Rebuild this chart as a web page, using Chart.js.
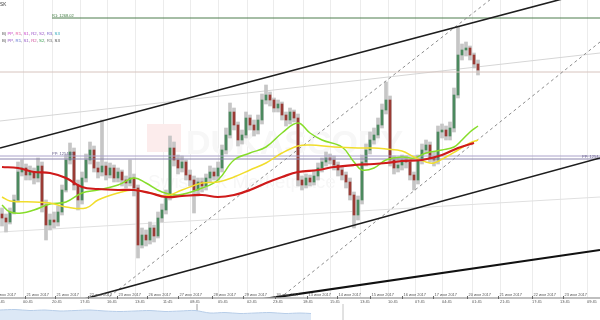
<!DOCTYPE html>
<html>
<head>
<meta charset="utf-8">
<script src="https://cdn.jsdelivr.net/npm/chart.js@4.4.1/dist/chart.umd.min.js"></script>
<style>
  body { margin: 0; background: #fff; }
  #wrap { position: relative; width: 600px; height: 320px; overflow: hidden; }
  #chart { position: absolute; left: 0; top: 0; }
  #nav { position: absolute; left: 0; top: 304px; }
</style>
</head>
<body>
<div id="wrap">
  <canvas id="chart" width="600" height="320" style="width:600px;height:320px"></canvas>
  <canvas id="nav" width="600" height="16" style="width:600px;height:16px"></canvas>
</div>
<script>
// candles, one per bar index
const firstOpen = 1248.6;
const closes = [
  1248.2, 1247.8, 1248.8, 1250.0, 1252.8, 1253.2, 1252.5, 1252.8, 1252.2, 1253.4,
  1249.5, 1247.5, 1248.0, 1247.8, 1248.8, 1251.0, 1254.0, 1254.8, 1251.5, 1250.0,
  1252.2, 1254.0, 1255.0, 1253.2, 1252.8, 1253.4, 1252.5, 1253.2, 1252.2, 1252.8,
  1252.0, 1251.7, 1252.2, 1251.2, 1245.5, 1246.5, 1246.0, 1247.2, 1246.4, 1248.2,
  1249.0, 1250.4, 1255.2, 1254.0, 1253.2, 1253.8, 1252.5, 1252.0, 1251.0, 1251.8,
  1251.4, 1252.2, 1252.8, 1252.4, 1253.2, 1255.0, 1256.5, 1258.8, 1257.5, 1256.0,
  1256.5, 1258.2, 1257.5, 1257.0, 1258.0, 1260.0, 1260.5, 1260.0, 1259.2, 1259.6,
  1258.5, 1258.0, 1258.8, 1258.2, 1252.0, 1251.5, 1252.2, 1251.8, 1252.4, 1253.2,
  1253.8, 1254.2, 1254.0, 1253.5, 1253.0, 1252.5, 1251.8, 1250.5, 1248.5, 1250.0,
  1253.8, 1255.0, 1256.0, 1256.5, 1257.5, 1259.0, 1260.0, 1254.0, 1253.2, 1253.5,
  1254.0, 1253.8, 1252.5, 1252.0, 1254.0, 1255.0, 1255.5, 1254.2, 1254.0, 1256.8,
  1257.0, 1256.4, 1257.2, 1260.5, 1264.5, 1265.0, 1265.2, 1264.5, 1263.6, 1263.0
];
const highs = [
  1249.2, 1248.6, 1249.2, 1250.5, 1253.8, 1254.0, 1253.6, 1253.4, 1253.2, 1254.2,
  1253.8, 1250.0, 1248.6, 1248.8, 1249.4, 1251.5, 1254.5, 1255.7, 1255.2, 1252.0,
  1252.8, 1254.6, 1255.8, 1255.4, 1253.8, 1258.0, 1253.8, 1253.7, 1253.5, 1253.2,
  1253.0, 1252.4, 1254.0, 1252.6, 1251.5, 1247.2, 1247.0, 1247.8, 1247.5, 1248.8,
  1249.6, 1251.0, 1256.4, 1255.8, 1254.5, 1254.4, 1254.0, 1253.0, 1252.4, 1252.2,
  1252.2, 1252.6, 1253.4, 1253.2, 1253.8, 1255.5, 1257.2, 1259.7, 1259.2, 1257.8,
  1257.0, 1258.8, 1258.5, 1258.0, 1258.5, 1260.6, 1261.5, 1260.8, 1260.2, 1260.0,
  1259.8, 1258.8, 1259.2, 1259.0, 1258.6, 1252.4, 1252.6, 1252.5, 1253.0, 1253.7,
  1254.2, 1254.8, 1254.6, 1254.4, 1253.8, 1253.4, 1252.8, 1252.2, 1250.8, 1250.4,
  1254.5, 1255.6, 1256.8, 1257.2, 1258.2, 1259.6, 1261.8, 1260.4, 1254.4, 1254.2,
  1254.5, 1254.4, 1254.0, 1252.8, 1254.5, 1255.6, 1256.0, 1255.8, 1254.8, 1257.4,
  1257.6, 1257.4, 1257.8, 1261.2, 1267.3, 1265.6, 1265.8, 1265.4, 1264.7, 1264.0
];
const lows = [
  1247.4, 1246.8, 1247.6, 1248.6, 1249.8, 1252.4, 1252.0, 1252.0, 1251.6, 1251.8,
  1248.8, 1246.0, 1247.0, 1247.2, 1247.4, 1248.5, 1250.8, 1253.6, 1251.0, 1249.0,
  1249.6, 1251.8, 1253.6, 1252.8, 1252.2, 1252.4, 1252.0, 1252.2, 1251.8, 1251.8,
  1251.4, 1251.2, 1251.4, 1250.4, 1244.2, 1245.2, 1245.4, 1245.6, 1245.8, 1246.2,
  1247.8, 1248.6, 1250.0, 1253.4, 1252.6, 1252.8, 1252.0, 1251.4, 1248.7, 1250.4,
  1250.8, 1251.0, 1251.8, 1252.0, 1252.0, 1252.8, 1254.6, 1256.2, 1257.0, 1255.4,
  1255.6, 1256.2, 1257.0, 1256.4, 1256.6, 1257.6, 1259.6, 1259.4, 1258.8, 1258.8,
  1258.0, 1257.4, 1257.6, 1257.8, 1251.4, 1251.0, 1251.2, 1251.4, 1251.5, 1252.0,
  1252.8, 1253.4, 1253.6, 1253.0, 1252.4, 1252.0, 1251.2, 1250.0, 1247.2, 1248.0,
  1249.6, 1253.4, 1254.6, 1255.6, 1256.2, 1257.2, 1258.6, 1253.4, 1252.6, 1252.8,
  1253.0, 1253.2, 1252.0, 1251.0, 1251.6, 1253.6, 1254.6, 1253.8, 1253.4, 1253.6,
  1256.2, 1256.0, 1256.0, 1256.8, 1260.2, 1264.0, 1264.4, 1264.0, 1263.2, 1262.5
];

// moving averages, read at some bar indices
const greenIdx = [0, 2, 5, 8, 12, 16, 20, 24, 29, 33, 36, 40, 44, 50, 54, 58, 62, 66, 70, 74, 77, 80, 85, 88, 90, 93, 96, 100, 103, 106, 110, 113, 115, 117, 119];
const greenMA = [1249.5, 1248.8, 1248.7, 1249.0, 1249.6, 1249.8, 1250.7, 1251.0, 1251.5, 1252.2, 1251.7, 1250.8, 1250.5, 1251.2, 1252.0, 1254.0, 1254.7, 1255.3, 1256.7, 1257.7, 1256.7, 1256.0, 1255.3, 1253.8, 1253.0, 1253.2, 1254.0, 1254.3, 1254.2, 1254.7, 1255.0, 1255.3, 1256.0, 1256.8, 1257.4];
const yellowIdx = [0, 2, 8, 12, 16, 21, 24, 29, 33, 37, 41, 45, 50, 54, 58, 62, 66, 70, 74, 77, 83, 89, 93, 96, 100, 103, 106, 108, 111, 114, 117, 119];
const yellowMA = [1250.3, 1249.9, 1249.8, 1249.7, 1249.3, 1249.2, 1250.0, 1250.7, 1251.0, 1250.7, 1250.4, 1251.0, 1251.7, 1251.8, 1252.3, 1253.0, 1253.7, 1254.7, 1255.4, 1255.5, 1255.3, 1255.2, 1255.2, 1255.1, 1254.9, 1254.3, 1253.8, 1253.7, 1254.3, 1255.0, 1255.7, 1256.0];
const redIdx = [0, 4, 8, 12, 16, 20, 24, 29, 33, 37, 41, 45, 50, 54, 58, 62, 66, 70, 74, 79, 83, 88, 93, 96, 100, 105, 110, 114, 118];
const redMA = [1253.3, 1253.2, 1252.8, 1252.7, 1252.2, 1251.3, 1251.1, 1251.0, 1251.0, 1250.7, 1250.3, 1250.4, 1250.5, 1250.3, 1250.5, 1251.0, 1251.7, 1252.3, 1252.8, 1253.0, 1253.3, 1253.5, 1253.6, 1253.7, 1253.9, 1254.0, 1254.5, 1255.2, 1255.7];

// drawn lines: [startIdx, startPrice, endIdx, endPrice]
const channelTop = [-0.5, 1255.2, 149.5, 1271.1];
const channelLow = [-0.5, 1237.8, 149.5, 1254.2];
const supportLine = [62, 1239.9, 149.5, 1245.0];
const thinUpper = [-0.5, 1257.9, 149.5, 1264.7];
const thinLower = [-0.5, 1246.8, 149.5, 1250.3];
const dashedA = [24.5, 1239.6, 124.5, 1270.8];
const dashedB = [67, 1239.4, 149.5, 1265.8];

// levels
const r1Level = 1268.2;
const r1Start = 12.5;
const ppLevels = [1254.4, 1254.1];
const lastPrice = 1262.8;

// axis labels
const dateTicks = [-2.5, 5.75, 13.25, 21.5, 28.75, 36.25, 44, 52.5, 60.25, 68.25, 76.25, 83.75, 92, 100, 107.75, 116.25, 124, 132.5, 140.25];
const dateLabels = ['20 июн 2017', '21 июн 2017', '21 июн 2017', '22 июн 2017', '23 июн 2017', '26 июн 2017', '27 июн 2017', '28 июн 2017', '29 июн 2017', '30 июн 2017', '13 июл 2017', '14 июл 2017', '15 июл 2017', '16 июл 2017', '17 июл 2017', '20 июл 2017', '21 июл 2017', '22 июл 2017', '23 июл 2017'];
const timeTicks = [-1.75, 5.25, 12.5, 19.5, 26.25, 33.25, 40.25, 47, 54, 61.25, 67.75, 75.25, 82, 89.5, 96.5, 103.25, 110, 117.5, 124.5, 132.5, 139.5, 146.25];
const timeLabels = ['03:45', '00:45', '20:45', '17:45', '16:45', '13:45', '11:45', '08:45', '05:45', '02:45', '23:45', '18:45', '15:45', '13:45', '10:45', '07:45', '04:45', '01:45', '21:45', '17:45', '13:45', '09:45'];

// navigator strip
const navX = [0, 15, 30, 45, 60, 75, 90, 105, 120, 135, 150, 165, 180, 195, 210, 225, 240, 255, 270, 285, 300, 311];
const navY = [10, 10.5, 9.5, 10, 9, 9.5, 10, 9, 8.5, 9, 9.5, 8.5, 9, 9.5, 7, 7.5, 6.5, 7, 7.5, 6.5, 7, 6.5];
const navMarks = [197, 343];

const pivotNames = ['PP', 'R1', 'S1', 'R2', 'S2', 'R3', 'S3'];
const pivotColors1 = ['#c93fc9', '#e0529c', '#c93fc9', '#9a52c8', '#9a52c8', '#7a62c8', '#2aa6b8'];
const pivotColors2 = ['#9455c4', '#5a6fd0', '#9455c4', '#d0509a', '#3aa050', '#777777', '#444444'];

const FONT = '"Liberation Sans", Arial, sans-serif';

const opens = closes.map((c, i) => (i === 0 ? firstOpen : closes[i - 1]));
const wickData = closes.map((c, i) => ({ x: i, y: [lows[i], highs[i]] }));
const bodyData = closes.map((c, i) => ({ x: i, y: [opens[i], c] }));
const bodyColors = closes.map((c, i) => (c >= opens[i] ? '#4b8a5e' : '#9b3b35'));

const seg = (s) => [{ x: s[0], y: s[1] }, { x: s[2], y: s[3] }];
const pts = (idx, vals) => idx.map((x, i) => ({ x, y: vals[i] }));
const lineDs = (data, color, width, order, extra) => Object.assign({
  type: 'line', data, borderColor: color, borderWidth: width,
  pointRadius: 0, fill: false, order
}, extra || {});

const overlay = {
  id: 'overlay',
  beforeDatasetsDraw(chart) {
    const { ctx, chartArea: a, scales: { x } } = chart;
    ctx.save();
    ctx.strokeStyle = '#ececec';
    ctx.lineWidth = 1;
    timeTicks.forEach((t) => {
      const px = Math.round(x.getPixelForValue(t)) + 0.5;
      ctx.beginPath();
      ctx.moveTo(px, a.top);
      ctx.lineTo(px, a.bottom);
      ctx.stroke();
    });
    // faint watermark
    ctx.fillStyle = '#fcecec';
    ctx.fillRect(147, 124, 34, 28);
    ctx.fillStyle = '#f7f7f7';
    ctx.font = 'bold 34px ' + FONT;
    ctx.fillText('DUKASCOPY', 186, 154);
    ctx.font = '19px ' + FONT;
    ctx.fillText('Swiss FX Marketplace', 148, 188);
    ctx.restore();
  },
  afterDraw(chart) {
    const { ctx, chartArea: a, scales: { x, y } } = chart;
    ctx.save();
    // axis band
    ctx.strokeStyle = '#aaaaaa';
    ctx.lineWidth = 1.5;
    ctx.beginPath();
    ctx.moveTo(0, a.bottom);
    ctx.lineTo(600, a.bottom);
    ctx.stroke();
    ctx.strokeStyle = '#666';
    ctx.lineWidth = 1;
    ctx.font = '3.9px ' + FONT;
    ctx.textBaseline = 'middle';
    ctx.fillStyle = '#555';
    dateTicks.forEach((t, i) => {
      const px = Math.round(x.getPixelForValue(t)) + 0.5;
      ctx.beginPath();
      ctx.moveTo(px, a.bottom - 2);
      ctx.lineTo(px, a.bottom + 1);
      ctx.stroke();
      ctx.fillText(dateLabels[i], px + 1, a.bottom - 3.3);
    });
    timeTicks.forEach((t, i) => {
      ctx.fillText(timeLabels[i], x.getPixelForValue(t), a.bottom + 4.3);
    });
    // level labels
    ctx.font = '4px ' + FONT;
    ctx.textBaseline = 'alphabetic';
    ctx.fillStyle = '#3f7a3f';
    ctx.fillText('R1: 1268.02', x.getPixelForValue(r1Start), y.getPixelForValue(r1Level) - 1.5);
    ctx.fillStyle = '#6c6490';
    ctx.fillText('PP: 1254.41', x.getPixelForValue(r1Start), y.getPixelForValue(ppLevels[0]) - 1);
    ctx.fillText('PP: 1254.41', 582, y.getPixelForValue(ppLevels[0]) + 1.5);
    // header
    ctx.fillStyle = '#333';
    ctx.font = '4.6px ' + FONT;
    ctx.fillText('ASK', -3, 6);
    ctx.font = '4.3px ' + FONT;
    [[pivotColors1, 34.5], [pivotColors2, 41.5]].forEach(([cols, ty]) => {
      let tx = 2;
      ctx.fillStyle = '#555';
      ctx.fillText('B) ', tx, ty);
      tx += ctx.measureText('B) ').width;
      pivotNames.forEach((n, i) => {
        ctx.fillStyle = cols[i];
        ctx.fillText(n, tx, ty);
        tx += ctx.measureText(n).width;
        if (i < pivotNames.length - 1) {
          ctx.fillStyle = '#555';
          ctx.fillText(', ', tx, ty);
          tx += ctx.measureText(', ').width;
        }
      });
    });
    ctx.restore();
  }
};

new Chart(document.getElementById('chart'), {
  type: 'bar',
  data: {
    datasets: [
      lineDs(seg(thinUpper), '#d6d6d6', 1, 20),
      lineDs(seg(thinLower), '#e0e0e0', 1, 20),
      { type: 'bar', data: wickData, backgroundColor: '#c6c6c6', barThickness: 3, grouped: false, order: 12 },
      { type: 'bar', data: bodyData, backgroundColor: bodyColors, barThickness: 2, minBarLength: 1, grouped: false, order: 11 },
      lineDs([{ x: -0.5, y: lastPrice }, { x: 149.5, y: lastPrice }], '#d7c4be', 1, 9),
      lineDs([{ x: r1Start, y: r1Level }, { x: 149.5, y: r1Level }], '#4d7d4d', 1, 9),
      lineDs([{ x: -0.5, y: ppLevels[0] }, { x: 149.5, y: ppLevels[0] }], '#aaa2ca', 1, 9),
      lineDs([{ x: -0.5, y: ppLevels[1] }, { x: 149.5, y: ppLevels[1] }], '#8a84ac', 1, 9),
      lineDs(seg(dashedA), '#8c8c8c', 1, 8, { borderDash: [3, 3] }),
      lineDs(seg(dashedB), '#8c8c8c', 1, 8, { borderDash: [3, 3] }),
      lineDs(seg(channelTop), '#1e1e1e', 1.6, 7),
      lineDs(seg(channelLow), '#1e1e1e', 1.6, 7),
      lineDs(seg(supportLine), '#111111', 2.2, 7),
      lineDs(pts(greenIdx, greenMA), '#86dd2a', 1.5, 6, { tension: 0.4 }),
      lineDs(pts(yellowIdx, yellowMA), '#f1dd2c', 1.5, 5, { tension: 0.4 }),
      lineDs(pts(redIdx, redMA), '#cf1a1a', 2.2, 4, { tension: 0.4 })
    ]
  },
  options: {
    responsive: false,
    animation: false,
    layout: { padding: { left: 0, right: 0, top: 0, bottom: 22 } },
    scales: {
      x: { type: 'linear', min: -0.5, max: 149.5, offset: false, display: false },
      y: { min: 1240.2, max: 1270, display: false }
    },
    plugins: { legend: { display: false }, tooltip: { enabled: false } }
  },
  plugins: [overlay]
});

new Chart(document.getElementById('nav'), {
  type: 'line',
  data: {
    datasets: [
      { data: pts(navX, navY), borderColor: '#b7cde8', borderWidth: 1, backgroundColor: '#dce8f6', fill: 'origin', pointRadius: 0, tension: 0.3 },
      { data: [{ x: navMarks[0], y: 0 }, { x: navMarks[0], y: 16 }], borderColor: '#9a9a9a', borderWidth: 1, pointRadius: 0 },
      { data: [{ x: navMarks[1], y: 0 }, { x: navMarks[1], y: 16 }], borderColor: '#c4c4c4', borderWidth: 1, pointRadius: 0 }
    ]
  },
  options: {
    responsive: false,
    animation: false,
    layout: { padding: 0 },
    scales: {
      x: { type: 'linear', min: 0, max: 600, display: false },
      y: { min: 0, max: 16, display: false }
    },
    plugins: { legend: { display: false }, tooltip: { enabled: false } }
  }
});
</script>
</body>
</html>
